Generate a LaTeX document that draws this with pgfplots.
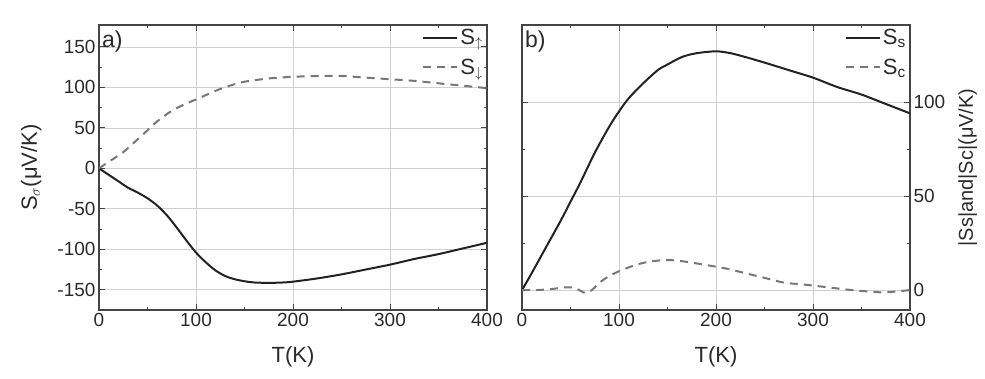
\documentclass[border=0pt]{standalone}
\usepackage{fontspec}
\setmainfont{Liberation Sans}
\usepackage{pgfplots}
\pgfplotsset{compat=1.18}
\definecolor{axgrey}{HTML}{444444}
\definecolor{txt}{HTML}{2A2A2A}
\definecolor{gridgrey}{HTML}{D0D0D0}
\definecolor{dashgrey}{HTML}{777777}
\definecolor{solidc}{HTML}{222222}
\begin{document}
\begin{tikzpicture}
\useasboundingbox (-99pt,-68pt) rectangle (886pt,310pt);
\pgfplotsset{
  myax/.style={
    width=388pt, height=285pt, scale only axis,
    xmin=0, xmax=400,
    xtick={0,100,...,400}, minor x tick num=1,
    minor y tick num=1,
    tick align=inside,
    major tick length=6pt, minor tick length=3pt,
    every tick/.style={axgrey, line width=0.8pt},
    axis line style={axgrey, line width=1.2pt},
    grid=major,
    major grid style={gridgrey, line width=0.6pt},
    /pgf/number format/assume math mode=true,
    tick label style={font=\fontsize{19}{21}\selectfont, text=txt},
    label style={font=\fontsize{22}{24}\selectfont, text=txt},
    xlabel={T(K)},
    xlabel style={at={(axis description cs:0.5,-0.165)}, anchor=center},
    legend cell align=left,
    legend style={draw=none, fill=none, at={(1,1)}, anchor=north east,
      font=\fontsize{22}{22}\selectfont, text=txt, row sep=9pt, inner sep=2pt},
    legend image code/.code={\draw[##1] (0pt,0pt) -- (34pt,0pt);},
  },
  solidline/.style={solidc, line width=2pt, smooth},
  dashline/.style={dashgrey, line width=2pt, dash pattern=on 8pt off 6pt, smooth},
}
\begin{axis}[myax, at={(0pt,0pt)}, anchor=south west,
  ymin=-175, ymax=177,
  ytick={-150,-100,...,150},
  ylabel={S$_\sigma$(μV/K)},
  ylabel style={at={(axis description cs:-0.175,0.5)}, anchor=center},
]
\addplot[solidline] coordinates {
(0,0) (10,-8) (20,-16) (30,-24) (40,-30) (50,-37) (60,-46) (70,-58) (80,-73)
(90,-89) (100,-104) (110,-116) (120,-126) (130,-133) (140,-137) (150,-139.5)
(160,-141) (175,-141.5) (190,-141) (200,-140) (225,-136) (250,-131) (275,-125)
(300,-119) (325,-112) (350,-106) (375,-99) (400,-92)};
\addlegendentry{S\textsubscript{$\uparrow$}}
\addplot[dashline] coordinates {
(0,0) (10,8) (25,20) (40,36) (50,47) (60,58) (75,71) (90,80) (100,85) (115,93)
(125,98) (140,104) (150,107) (175,111) (200,113) (225,114) (250,114) (275,112)
(300,110) (325,108) (350,105) (375,102) (400,99)};
\addlegendentry{S\textsubscript{$\downarrow$}}
\node[anchor=north west, font=\fontsize{23}{23}\selectfont, text=txt, inner sep=1pt]
  at (axis description cs:0.005,0.985) {a)};
\end{axis}
\begin{axis}[myax, at={(423pt,0pt)}, anchor=south west,
  ymin=-10.6, ymax=141,
  ytick={0,50,100},
  yticklabel pos=right,
  ylabel={|Ss|and|Sc|(μV/K)},
  ylabel style={at={(axis description cs:1.149,0.5)}, anchor=center, rotate=0, font=\fontsize{20}{22}\selectfont},
]
\addplot[solidline] coordinates {
(0,0) (10,9) (25,23) (40,37) (50,47) (60,57) (75,73) (90,87) (100,95) (110,102)
(125,110) (140,117) (150,120) (165,124) (180,126) (200,127) (215,126) (230,124)
(250,121) (275,117) (300,113) (325,108) (350,104) (375,99) (400,94)};
\addlegendentry{S\textsubscript{s}}
\addplot[dashline] coordinates {
(0,0) (15,0) (30,0.5) (45,1.5) (55,1) (65,-1.5) (72,0) (80,4) (90,7.5) (100,10)
(115,13) (130,15) (150,16) (170,15) (190,13.3) (210,11.5) (230,9) (250,6.5)
(270,4) (295,2.7) (315,1.5) (340,0) (370,-1.2) (385,-0.8) (400,0)};
\addlegendentry{S\textsubscript{c}}
\node[anchor=north west, font=\fontsize{23}{23}\selectfont, text=txt, inner sep=1pt]
  at (axis description cs:0.005,0.985) {b)};
\end{axis}
\end{tikzpicture}
\end{document}
